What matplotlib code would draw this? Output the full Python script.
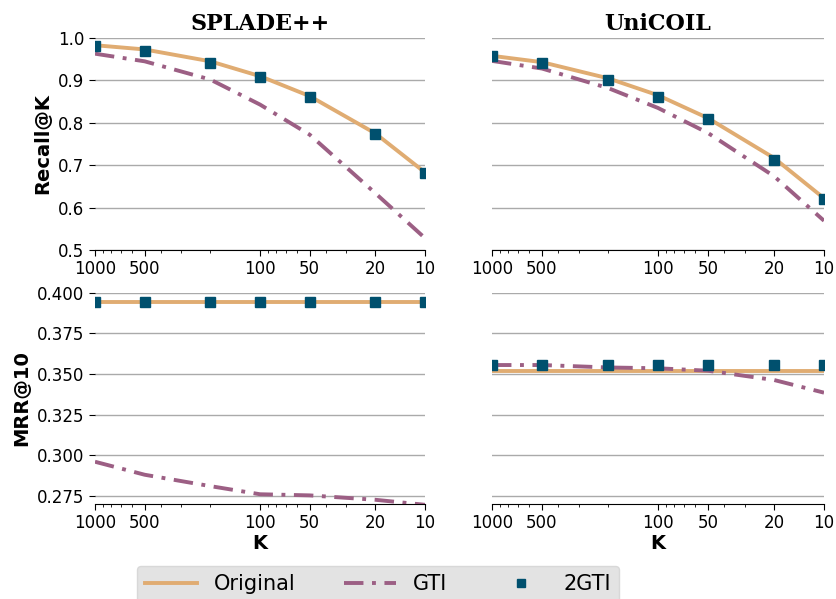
import matplotlib
matplotlib.use("Agg")
import matplotlib.pyplot as plt
from matplotlib.ticker import FixedLocator, FixedFormatter, LogLocator, NullFormatter

K = [1000, 500, 200, 100, 50, 20, 10]
k_ticks = [1000, 500, 100, 50, 20, 10]
k_tick_labels = ["1000", "500", "100", "50", "20", "10"]

models = ["SPLADE++", "UniCOIL"]

splade_recall_original = [0.983, 0.973, 0.945, 0.910, 0.863, 0.775, 0.683]
splade_recall_gti = [0.963, 0.945, 0.902, 0.843, 0.772, 0.634, 0.528]
splade_recall_2gti = [0.980, 0.970, 0.942, 0.907, 0.861, 0.774, 0.682]

unicoil_recall_original = [0.958, 0.943, 0.905, 0.865, 0.811, 0.717, 0.622]
unicoil_recall_gti = [0.946, 0.928, 0.882, 0.835, 0.776, 0.674, 0.569]
unicoil_recall_2gti = [0.957, 0.941, 0.902, 0.862, 0.809, 0.713, 0.621]

splade_mrr_original = [0.394, 0.394, 0.394, 0.394, 0.394, 0.394, 0.394]
splade_mrr_gti = [0.296, 0.288, 0.281, 0.276, 0.2753, 0.2726, 0.2695]
splade_mrr_2gti = [0.3945, 0.3945, 0.3945, 0.3945, 0.3945, 0.3943, 0.3943]

unicoil_mrr_original = [0.352, 0.352, 0.352, 0.352, 0.352, 0.352, 0.352]
unicoil_mrr_gti = [0.3555, 0.3555, 0.354, 0.3535, 0.352, 0.3463, 0.3385]
unicoil_mrr_2gti = [0.3555, 0.3555, 0.3555, 0.3555, 0.3555, 0.3555, 0.3555]

c_orig = "#E0AC72"
c_gti = "#9C5F84"
c_2gti = "#00506E"

fig = plt.figure(figsize=(8.36, 5.99), dpi=100)

L1, R1 = 95 / 836, 425 / 836
L2, R2 = 492 / 836, 824 / 836
T1, B1 = 1 - 38 / 599, 1 - 250 / 599
T2, B2 = 1 - 292.7 / 599, 1 - 504 / 599

axes = [[fig.add_axes([L1, B1, R1 - L1, T1 - B1]), fig.add_axes([L2, B1, R2 - L2, T1 - B1])],
        [fig.add_axes([L1, B2, R1 - L1, T2 - B2]), fig.add_axes([L2, B2, R2 - L2, T2 - B2])]]

data = [
    [(splade_recall_original, splade_recall_gti, splade_recall_2gti),
     (unicoil_recall_original, unicoil_recall_gti, unicoil_recall_2gti)],
    [(splade_mrr_original, splade_mrr_gti, splade_mrr_2gti),
     (unicoil_mrr_original, unicoil_mrr_gti, unicoil_mrr_2gti)],
]

ylims = [(0.5, 1.0), (0.27, 0.40)]
yticks = [[0.5, 0.6, 0.7, 0.8, 0.9, 1.0], [0.275, 0.300, 0.325, 0.350, 0.375, 0.400]]
yfmt = ["{:.1f}", "{:.3f}"]
ylabels = ["Recall@K", "MRR@10"]

handles = None
for r in range(2):
    for c in range(2):
        ax = axes[r][c]
        orig, gti, two = data[r][c]
        h1, = ax.plot(K, orig, color=c_orig, lw=2.8, label="Original", zorder=3)
        h2, = ax.plot(K, gti, color=c_gti, lw=2.8, ls=(0, (5, 2.2, 1, 2.2)), label="GTI", zorder=3)
        h3, = ax.plot(K, two, ls="none", marker="s", ms=7, color=c_2gti, label="2GTI", zorder=4)
        handles = [h1, h2, h3]
        ax.set_xscale("log")
        ax.set_xlim(1000, 10)
        ax.xaxis.set_major_locator(FixedLocator(k_ticks))
        ax.xaxis.set_major_formatter(FixedFormatter(k_tick_labels))
        ax.xaxis.set_minor_locator(LogLocator(base=10, subs=range(2, 10)))
        ax.xaxis.set_minor_formatter(NullFormatter())
        ax.set_ylim(*ylims[r])
        ax.set_yticks(yticks[r])
        ax.set_yticklabels([yfmt[r].format(v) for v in yticks[r]])
        ax.grid(axis="y", color="#aaaaaa", lw=1.0)
        ax.set_axisbelow(True)
        for s in ["top", "right", "left"]:
            ax.spines[s].set_visible(False)
        ax.spines["bottom"].set_color("black")
        ax.tick_params(axis="x", which="major", labelsize=12, length=4, direction="out")
        ax.tick_params(axis="x", which="minor", length=2)
        if c == 0:
            ax.tick_params(axis="y", labelsize=12, length=4)
            ax.set_ylabel(ylabels[r], fontsize=14, fontweight="bold")
        else:
            ax.tick_params(axis="y", labelleft=False, length=0)
        if r == 0:
            ax.set_title(models[c], fontsize=16, fontweight="bold", family="DejaVu Serif", pad=6)
        else:
            ax.set_xlabel("K", fontsize=14, fontweight="bold", labelpad=1)

leg = fig.legend(handles, ["Original", "GTI", "2GTI"], loc="upper left",
                 bbox_to_anchor=(137 / 836, 1 - 566 / 599), borderaxespad=0, ncol=3,
                 fontsize=15, frameon=True, facecolor="#e3e3e3", edgecolor="#d8d8d8",
                 framealpha=1, columnspacing=2.3, handlelength=2.5, handletextpad=0.8,
                 markerscale=0.75)

fig.savefig("out.png", dpi=100)
